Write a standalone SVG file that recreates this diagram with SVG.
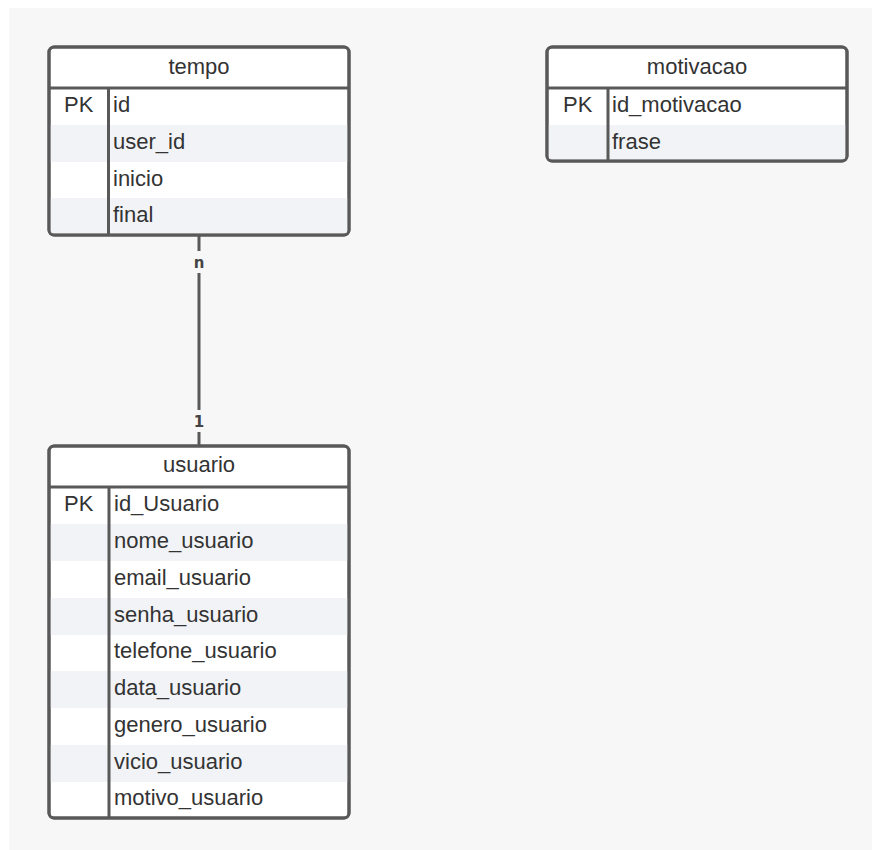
<svg xmlns="http://www.w3.org/2000/svg" width="872" height="850" viewBox="0 0 872 850">
<style>
.frame{fill:#ffffff;stroke:#595959;stroke-width:3}
.line{stroke:#595959;stroke-width:3;fill:none}
.alt{fill:#f2f3f7}
.t{font-family:"Liberation Sans",Arial,sans-serif;font-size:22px;fill:#333333}
.h{text-anchor:middle}
.lbl{font-family:"DejaVu Sans",sans-serif;font-size:15px;font-weight:bold;fill:#444444;text-anchor:middle}
</style>
<rect x="0" y="0" width="872" height="850" fill="#ffffff"/>
<rect x="9" y="8" width="863" height="842" fill="#f7f7f7"/>

<g id="connectors">
<line class="line" x1="199" y1="235" x2="199" y2="251"/>
<line class="line" x1="199" y1="273" x2="199" y2="410"/>
<line class="line" x1="199" y1="432" x2="199" y2="446"/>
<text class="lbl" x="199" y="268">n</text>
<text class="lbl" x="199" y="427">1</text>
</g>

<g id="tempo">
<rect class="frame" x="49" y="47" width="300" height="188" rx="5"/>
<rect class="alt" x="50.5" y="125" width="297" height="37"/>
<rect class="alt" x="50.5" y="198" width="297" height="35.5"/>
<rect x="49" y="47" width="300" height="188" rx="5" fill="none" stroke="#595959" stroke-width="3"/>
<line class="line" x1="49" y1="88" x2="349" y2="88"/>
<line class="line" x1="108.5" y1="88" x2="108.5" y2="235"/>
<text class="t h" x="199" y="74">tempo</text>
<text class="t" x="64" y="112">PK</text>
<text class="t" x="113" y="112">id</text>
<text class="t" x="113" y="149">user_id</text>
<text class="t" x="113" y="186">inicio</text>
<text class="t" x="113" y="222">final</text>
</g>

<g id="motivacao">
<rect class="frame" x="547" y="47" width="300" height="114" rx="5"/>
<rect class="alt" x="548.5" y="125" width="297" height="34.5"/>
<rect x="547" y="47" width="300" height="114" rx="5" fill="none" stroke="#595959" stroke-width="3"/>
<line class="line" x1="547" y1="88" x2="847" y2="88"/>
<line class="line" x1="608" y1="88" x2="608" y2="161"/>
<text class="t h" x="697" y="74">motivacao</text>
<text class="t" x="563" y="112">PK</text>
<text class="t" x="612" y="112">id_motivacao</text>
<text class="t" x="612" y="149">frase</text>
</g>

<g id="usuario">
<rect class="frame" x="49" y="446" width="300" height="372" rx="5"/>
<rect class="alt" x="50.5" y="524" width="297" height="37"/>
<rect class="alt" x="50.5" y="598" width="297" height="37"/>
<rect class="alt" x="50.5" y="671" width="297" height="37"/>
<rect class="alt" x="50.5" y="745" width="297" height="37"/>
<rect x="49" y="446" width="300" height="372" rx="5" fill="none" stroke="#595959" stroke-width="3"/>
<line class="line" x1="49" y1="487" x2="349" y2="487"/>
<line class="line" x1="109" y1="487" x2="109" y2="818"/>
<text class="t h" x="199" y="472">usuario</text>
<text class="t" x="64" y="511">PK</text>
<text class="t" x="114" y="511">id_Usuario</text>
<text class="t" x="114" y="548">nome_usuario</text>
<text class="t" x="114" y="585">email_usuario</text>
<text class="t" x="114" y="622">senha_usuario</text>
<text class="t" x="114" y="658">telefone_usuario</text>
<text class="t" x="114" y="695">data_usuario</text>
<text class="t" x="114" y="732">genero_usuario</text>
<text class="t" x="114" y="769">vicio_usuario</text>
<text class="t" x="114" y="805">motivo_usuario</text>
</g>
</svg>
